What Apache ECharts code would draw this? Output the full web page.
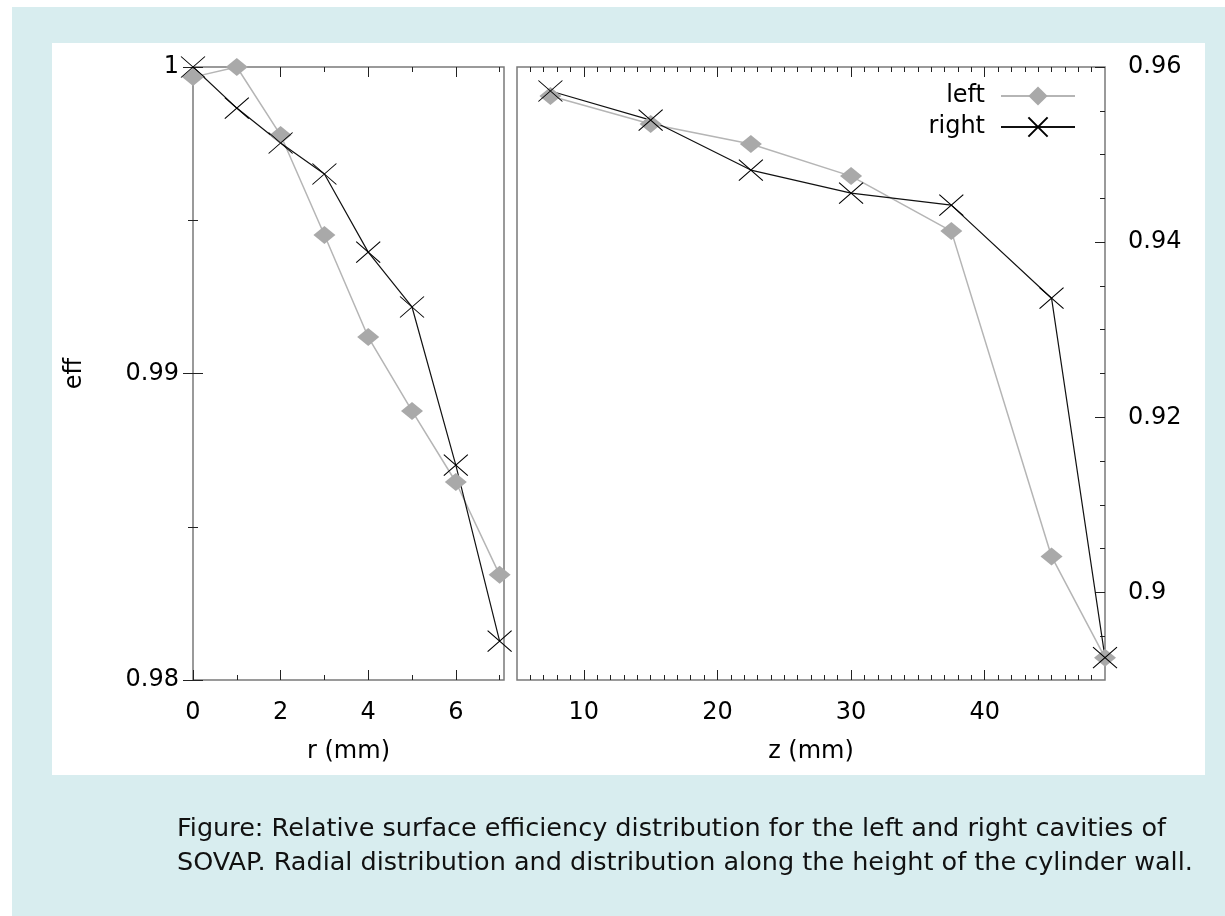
<!DOCTYPE html>
<html>
<head>
<meta charset="utf-8">
<script src="https://cdn.jsdelivr.net/npm/echarts@6/dist/echarts.min.js"></script>
<style>
  html, body { margin: 0; padding: 0; background: #ffffff; }
  #chart { width: 1225px; height: 916px; }
</style>
</head>
<body>
<div id="chart"></div>
<script>
// radial distribution (left panel)
const rValues = [0, 1, 2, 3, 4, 5, 6, 7];
const rLeft = [0.99967, 1.0, 0.99778, 0.99452, 0.99119, 0.98878, 0.98646, 0.98343];
const rRight = [1.0, 0.99866, 0.99752, 0.99651, 0.99396, 0.99217, 0.98701, 0.98127];

// distribution along the height (right panel)
const zValues = [7.5, 15, 22.5, 30, 37.5, 45, 49];
const zLeft = [0.95669, 0.95349, 0.9512, 0.94754, 0.94126, 0.90411, 0.89255];
const zRight = [0.95726, 0.95394, 0.94823, 0.9456, 0.94423, 0.9336, 0.89255];

// tick labels / tick positions
const rMajor = [0, 2, 4, 6];
const rMinor = [1, 3, 5, 7];
const effMajor = [0.98, 0.99, 1];
const effMinor = [0.985, 0.995];
const zMajor = [10, 20, 30, 40];
const zMinor = [6, 7, 8, 9, 11, 12, 13, 14, 15, 16, 17, 18, 19, 21, 22, 23, 24, 25, 26, 27, 28, 29,
  31, 32, 33, 34, 35, 36, 37, 38, 39, 41, 42, 43, 44, 45, 46, 47, 48];
const eff2Major = [0.9, 0.92, 0.94, 0.96];
const eff2Minor = [0.895, 0.905, 0.91, 0.915, 0.925, 0.93, 0.935, 0.945, 0.95, 0.955];

const caption = "Figure: Relative surface efficiency distribution for the left and right cavities of\n" +
  "SOVAP. Radial distribution and distribution along the height of the cylinder wall.";

const FONT = "DejaVu Sans, Liberation Sans, sans-serif";
const labelStyle = { color: "#000", fontFamily: FONT, fontSize: 24 };

// one axis = one set of ticks (gnuplot style: long major, short minor, mirrored)
function tickAxis(grid, pos, min, max, ticks, len, labels, extra) {
  return {
    type: "value",
    gridIndex: grid,
    position: pos,
    min: min,
    max: max,
    splitLine: { show: false },
    axisLine: { show: false },
    axisTick: {
      show: true,
      inside: true,
      length: len,
      customValues: ticks,
      lineStyle: { color: "#222", width: 1 },
    },
    axisLabel: labels
      ? Object.assign({ customValues: labels }, labelStyle, extra || {})
      : { show: false },
  };
}

const xAxes = [
  Object.assign(tickAxis(0, "bottom", 0, 7.1, rMajor, 10, rMajor, { margin: 21 }), {
    name: "r (mm)",
    nameLocation: "middle",
    nameGap: 60,
    nameTextStyle: labelStyle,
  }),
  tickAxis(0, "bottom", 0, 7.1, rMinor, 5),
  tickAxis(0, "top", 0, 7.1, rMajor, 10),
  tickAxis(0, "top", 0, 7.1, rMinor, 5),
  Object.assign(tickAxis(1, "bottom", 5, 49, zMajor, 10, zMajor, { margin: 21 }), {
    name: "z (mm)",
    nameLocation: "middle",
    nameGap: 60,
    nameTextStyle: labelStyle,
  }),
  tickAxis(1, "bottom", 5, 49, zMinor, 5),
  tickAxis(1, "top", 5, 49, zMajor, 10),
  tickAxis(1, "top", 5, 49, zMinor, 5),
];

const yAxes = [
  Object.assign(tickAxis(0, "left", 0.98, 1, effMajor, 10, effMajor, { margin: 14 }), {
    name: "eff",
    nameLocation: "middle",
    nameGap: 106,
    nameRotate: 90,
    nameTextStyle: labelStyle,
  }),
  tickAxis(0, "left", 0.98, 1, effMinor, 5),
  tickAxis(0, "right", 0.98, 1, effMajor, 10),
  tickAxis(0, "right", 0.98, 1, effMinor, 5),
  tickAxis(1, "right", 0.89, 0.96, eff2Major, 10, eff2Major, { margin: 23 }),
  tickAxis(1, "right", 0.89, 0.96, eff2Minor, 5),
];

const diamond = {
  symbol: "diamond",
  symbolSize: [22, 18],
  itemStyle: { color: "#a9a9a9" },
  lineStyle: { color: "#b5b5b5", width: 1.5 },
};
const cross = {
  symbol: "path://M0,0L10,10M10,0L0,10",
  symbolSize: [24, 21],
  itemStyle: { color: "#000", borderColor: "#000", borderWidth: 1 },
  lineStyle: { color: "#111", width: 1.2 },
};

function pairs(xs, ys) {
  return xs.map((x, i) => [x, ys[i]]);
}

const chart = echarts.init(document.getElementById("chart"), null, { renderer: "canvas" });
chart.setOption({
  animation: false,
  graphic: [
    { type: "rect", z: -10, shape: { x: 12, y: 7, width: 1213, height: 909 }, style: { fill: "#d8edef" } },
    { type: "rect", z: -9, shape: { x: 52, y: 43, width: 1153, height: 732 }, style: { fill: "#ffffff" } },
  ],
  title: {
    text: caption,
    left: 172,
    top: 807,
    textStyle: { color: "#111", fontFamily: FONT, fontSize: 25.5, fontWeight: "normal", lineHeight: 34 },
  },
  legend: {
    data: ["left", "right"],
    orient: "vertical",
    right: 144,
    top: 79,
    align: "right",
    itemWidth: 74,
    itemHeight: 24,
    itemGap: 7,
    textStyle: { color: "#000", fontFamily: FONT, fontSize: 24, padding: [0, 11, 0, 0] },
  },
  grid: [
    { left: 193, top: 67, width: 311, height: 613, show: true, borderColor: "#7a7a7a", borderWidth: 1.5 },
    { left: 517, top: 67, width: 588, height: 613, show: true, borderColor: "#7a7a7a", borderWidth: 1.5 },
  ],
  xAxis: xAxes,
  yAxis: yAxes,
  series: [
    Object.assign({ name: "left", type: "line", xAxisIndex: 0, yAxisIndex: 0, clip: false, data: pairs(rValues, rLeft) }, diamond),
    Object.assign({ name: "right", type: "line", xAxisIndex: 0, yAxisIndex: 0, clip: false, data: pairs(rValues, rRight) }, cross),
    Object.assign({ name: "left", type: "line", xAxisIndex: 4, yAxisIndex: 4, clip: false, data: pairs(zValues, zLeft) }, diamond),
    Object.assign({ name: "right", type: "line", xAxisIndex: 4, yAxisIndex: 4, clip: false, data: pairs(zValues, zRight) }, cross),
  ],
});
</script>
</body>
</html>
